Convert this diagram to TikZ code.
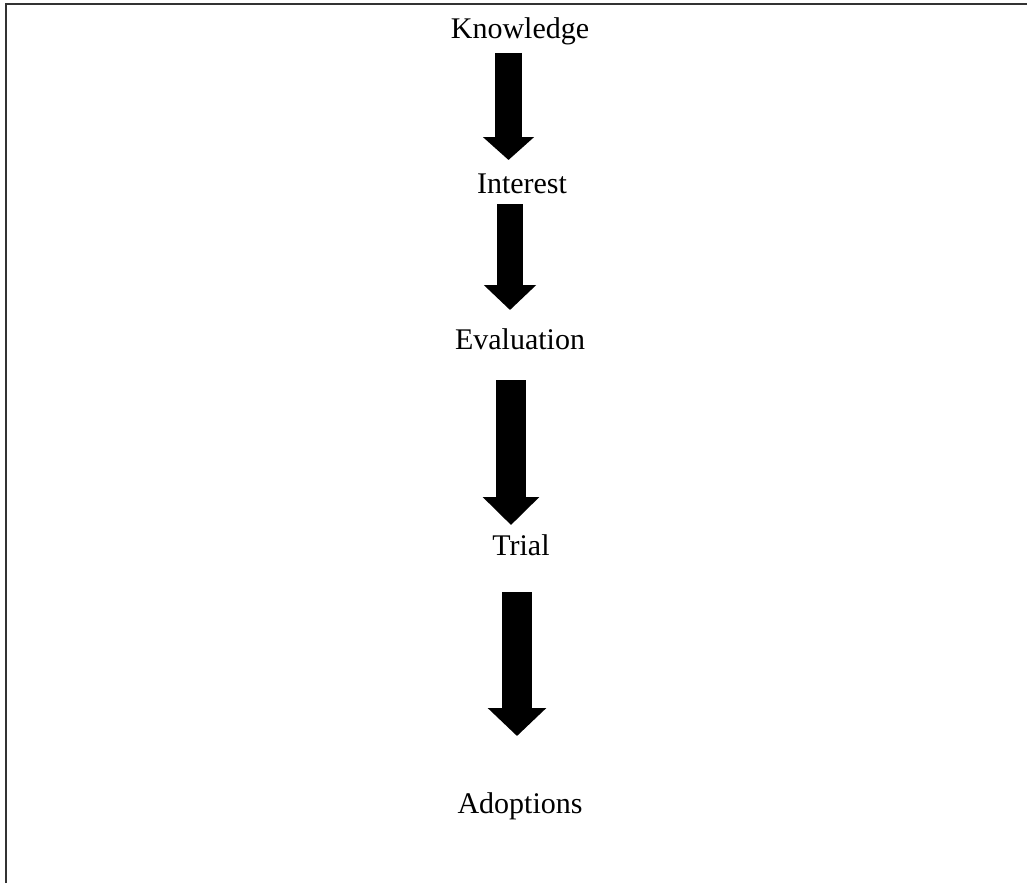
\documentclass[tikz,border=0pt]{standalone}
\usepackage{fontspec}
\setmainfont{Liberation Serif}
\usetikzlibrary{arrows.meta}
\begin{document}
\begin{tikzpicture}[x=1pt,y=-1pt,
  stage/.style={anchor=base,inner sep=0pt,font=\fontsize{30}{36}\selectfont},
  flow/.style n args={3}{line width=#1pt,
    -{Triangle[width=#2pt,length=#3pt]}}]
  \useasboundingbox (0,0) rectangle (1027,883);
  % frame: only the left and top edges fall inside the page
  \draw[line width=2pt,black!80] (5.5,883) -- (5.5,4.5) -- (1027,4.5);

  % stages
  \node[stage] (k) at (520,38)  {Knowledge};
  \node[stage] (i) at (522,193) {Interest};
  \node[stage] (e) at (520,349) {Evaluation};
  \node[stage] (t) at (521,555) {Trial};
  \node[stage] (a) at (520,813) {Adoptions};

  % arrow end points
  \coordinate (k-out) at (508.5,53);  \coordinate (i-in) at (508.5,160);
  \coordinate (i-out) at (510,204);   \coordinate (e-in) at (510,310);
  \coordinate (e-out) at (511,380);   \coordinate (t-in) at (511,525);
  \coordinate (t-out) at (517,592);   \coordinate (a-in) at (517,736);

  % block arrows between stages
  \draw[flow={27}{50}{23}] (k-out) -- (i-in);
  \draw[flow={26}{51}{25}] (i-out) -- (e-in);
  \draw[flow={30}{55}{28}] (e-out) -- (t-in);
  \draw[flow={30}{57}{28}] (t-out) -- (a-in);
\end{tikzpicture}
\end{document}
